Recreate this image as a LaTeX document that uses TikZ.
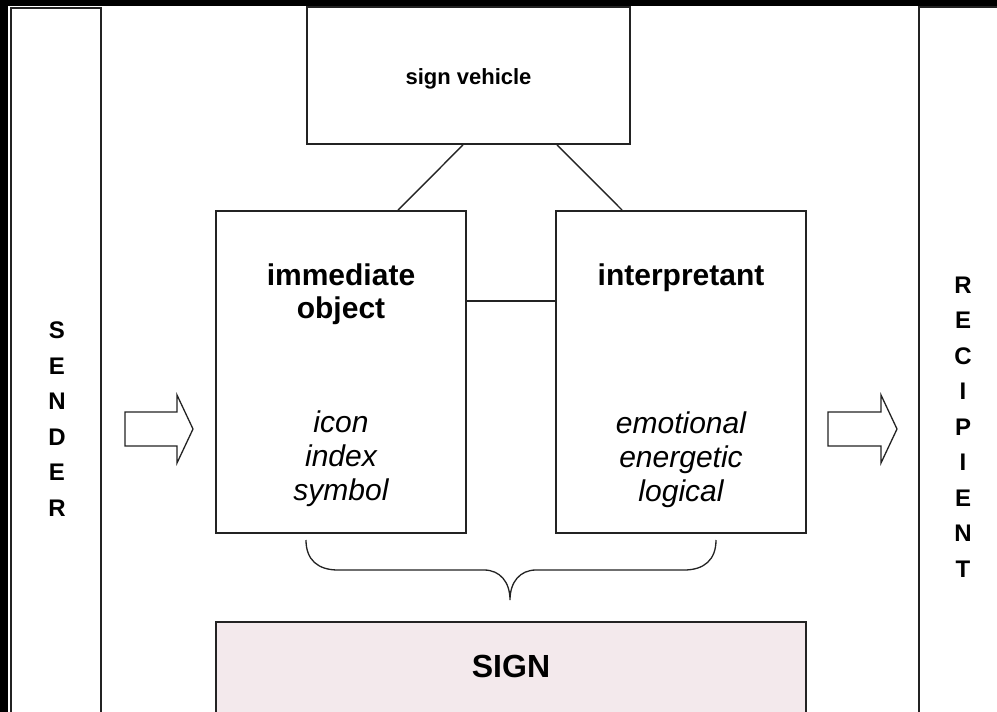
\documentclass[tikz,border=0pt]{standalone}
\usepackage{fontspec}
\setmainfont{Liberation Sans}
\usetikzlibrary{calc}
\definecolor{signfill}{RGB}{243,233,236}
\definecolor{edge}{RGB}{35,35,35}
\begin{document}
\begin{tikzpicture}[x=1pt,y=-1pt,
  box/.style={draw=edge,line width=1.8pt,rectangle,inner sep=0pt},
  link/.style={draw=edge,line width=1.4pt},
  title/.style={font=\fontsize{30}{34}\selectfont\bfseries,anchor=base,inner sep=0pt},
  item/.style={font=\fontsize{30}{34}\selectfont\itshape,anchor=base,inner sep=0pt},
  letter/.style={font=\fontsize{24}{24}\selectfont\bfseries,anchor=base,inner sep=0pt},
  blockarrow/.style={draw=edge,line width=1.3pt,fill=white,line join=miter}]
% frame and page
\fill[black] (0,0) rectangle (997,712);
\fill[white] (8,6) rectangle (997,712);
\useasboundingbox (0,0) rectangle (997,712);
\clip (0,0) rectangle (997,712);

% side columns
\node[box,minimum width=90pt,minimum height=732pt] (sender) at (56,374) {};
\node[box,minimum width=90pt,minimum height=733pt] (recipient) at (964,373.5) {};
\foreach \ch [count=\i from 0] in {S,E,N,D,E,R}
  \node[letter] (sl\i) at (57,338.5+35.5*\i) {\ch};
\foreach \ch [count=\i from 0] in {R,E,C,I,P,I,E,N,T}
  \node[letter] (rl\i) at (963,293+35.5*\i) {\ch};

% main boxes
\node[box,minimum width=323pt,minimum height=137pt] (sv) at (468.5,75.5) {};
\node[box,minimum width=250pt,minimum height=322pt] (io) at (341,372) {};
\node[box,minimum width=250pt,minimum height=322pt] (ip) at (681,372) {};
\node[box,fill=signfill,minimum width=590pt,minimum height=118pt] (sign) at (511,681) {};

% labels
\node[title,font=\fontsize{22}{26}\selectfont\bfseries] (svlabel) at (468.5,84) {sign vehicle};
\node[title] (iolabel1) at (341,285) {immediate};
\node[title] (iolabel2) at (341,318) {object};
\node[title] (iplabel) at (681,285) {interpretant};
\node[item] (io1) at (341,432) {icon};
\node[item] (io2) at (341,466) {index};
\node[item] (io3) at (341,500) {symbol};
\node[item] (ip1) at (681,433) {emotional};
\node[item] (ip2) at (681,467) {energetic};
\node[item] (ip3) at (681,501) {logical};
\node[title,font=\fontsize{32}{34}\selectfont\bfseries] (signlabel) at (511,677) {SIGN};

% connectors
\draw[link] ($(sv.south)+(-5.5,0)$) -- ($(io.north west)+(183,0)$);
\draw[link] ($(sv.south)+(88.5,0)$) -- ($(ip.north west)+(67,0)$);
\draw[link] ($(io.north east)+(0,91)$) -- ($(ip.north west)+(0,91)$);

% brace under the two boxes
\coordinate (bl) at (306,540);
\coordinate (br) at (716,540);
\coordinate (bt) at (510,600);
\draw[link,line width=1.3pt] (bl) .. controls (306,560) and (318,570) .. (338,570)
  -- (484,570) .. controls (500,570) and (510,582) .. (bt)
  .. controls (510,582) and (520,570) .. (536,570)
  -- (684,570) .. controls (704,570) and (716,560) .. (br);

% block arrows
\draw[blockarrow] (125,412) -- (177,412) -- (177,395) -- (193,429)
  -- (177,463) -- (177,446) -- (125,446) -- cycle;
\draw[blockarrow] (828,412) -- (881,412) -- (881,395) -- (897,429)
  -- (881,463) -- (881,446) -- (828,446) -- cycle;
\end{tikzpicture}
\end{document}
